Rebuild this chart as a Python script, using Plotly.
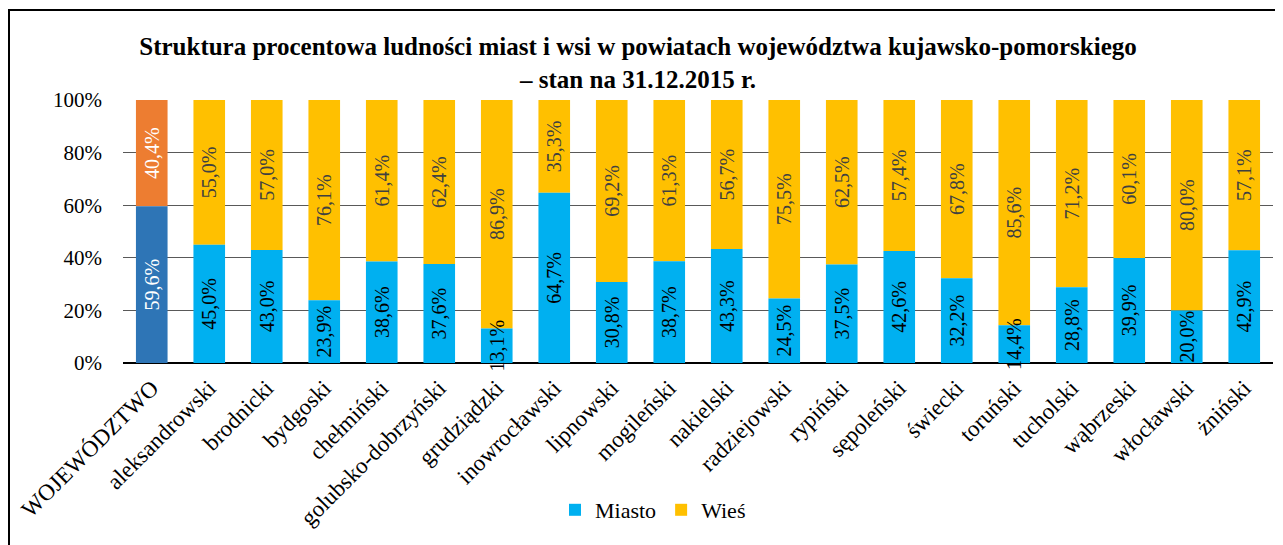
import plotly.graph_objects as go

categories = ["WOJEWÓDZTWO", "aleksandrowski", "brodnicki", "bydgoski", "chełmiński",
              "golubsko-dobrzyński", "grudziądzki", "inowrocławski", "lipnowski", "mogileński",
              "nakielski", "radziejowski", "rypiński", "sępoleński", "świecki", "toruński",
              "tucholski", "wąbrzeski", "włocławski", "żniński"]
miasto = [59.6, 45.0, 43.0, 23.9, 38.6, 37.6, 13.1, 64.7, 30.8, 38.7,
          43.3, 24.5, 37.5, 42.6, 32.2, 14.4, 28.8, 39.9, 20.0, 42.9]
wies = [40.4, 55.0, 57.0, 76.1, 61.4, 62.4, 86.9, 35.3, 69.2, 61.3,
        56.7, 75.5, 62.5, 57.4, 67.8, 85.6, 71.2, 60.1, 80.0, 57.1]
y_ticks = [0, 20, 40, 60, 80, 100]
y_ticktext = ["0%", "20%", "40%", "60%", "80%", "100%"]

FONT = "Liberation Serif, Times New Roman, serif"
LBL = 20

# page body has an 8px margin: figure is sized/offset to compensate
W, H = 1275, 537
L, T = 115, 92
PW, PH = 1150, 263

fig = go.Figure()
common = dict(textposition="inside", insidetextanchor="middle", textangle=-90,
              constraintext="none", cliponaxis=False, texttemplate="%{y:.1f}%",
              marker_line_width=0, hoverinfo="skip")

# Wieś segments first (stacked on top of Miasto via base), so Miasto labels are drawn above them
fig.add_trace(go.Bar(x=categories[:1], y=wies[:1], base=miasto[:1], marker_color="#ED7D31",
                     showlegend=False,
                     textfont=dict(family=FONT, size=LBL, color="white"), **common))
fig.add_trace(go.Bar(x=categories[1:], y=wies[1:], base=miasto[1:], name="Wieś",
                     marker_color="#FFC000", legendrank=2,
                     textfont=dict(family=FONT, size=LBL, color="#404040"), **common))
fig.add_trace(go.Bar(x=categories[:1], y=miasto[:1], marker_color="#2E75B6", showlegend=False,
                     textfont=dict(family=FONT, size=LBL, color="white"), **common))
fig.add_trace(go.Bar(x=categories[1:], y=miasto[1:], name="Miasto", marker_color="#00B0F0",
                     legendrank=1,
                     textfont=dict(family=FONT, size=LBL, color="black"), **common))

fig.update_layout(
    template="none",
    barmode="overlay",
    bargap=0.45,
    width=W, height=H,
    margin=dict(l=L, r=W - L - PW, t=T, b=H - T - PH, autoexpand=False),
    paper_bgcolor="white", plot_bgcolor="white",
    separators=", ",
    font=dict(family=FONT, color="black", size=21),
    title=dict(text="<b>Struktura procentowa ludności miast i wsi w powiatach województwa kujawsko-pomorskiego<br>– stan na 31.12.2015 r.</b>",
               x=630 / W, xanchor="center", y=1 - 47 / H, yanchor="middle",
               font=dict(family=FONT, size=25, color="black")),
    legend=dict(orientation="h", x=(645 - L) / PW, xanchor="center",
                y=(T + PH - 502) / PH, yanchor="middle",
                font=dict(family=FONT, size=22, color="black"),
                itemwidth=30),
    xaxis=dict(type="category", tickangle=-45, tickfont=dict(family=FONT, size=23, color="black"),
               showgrid=False, ticks="", showline=False, categoryorder="array", categoryarray=categories,
               ticklabelstandoff=6),
    yaxis=dict(range=[0, 100], tickmode="array", tickvals=y_ticks, ticktext=y_ticktext,
               tickfont=dict(family=FONT, size=21, color="black"),
               showgrid=True, gridcolor="#595959", gridwidth=1,
               zeroline=True, zerolinecolor="black", zerolinewidth=2,
               ticks="", showline=False, ticklabelstandoff=20),
    shapes=[dict(type="rect", xref="paper", yref="paper",
                 x0=(1 - L) / PW, x1=(1300 - L) / PW,
                 y0=(T + PH - 560) / PH, y1=(T + PH - 2) / PH,
                 line=dict(color="black", width=2), fillcolor="rgba(0,0,0,0)", layer="below")],
)

fig.write_html("out.html")
